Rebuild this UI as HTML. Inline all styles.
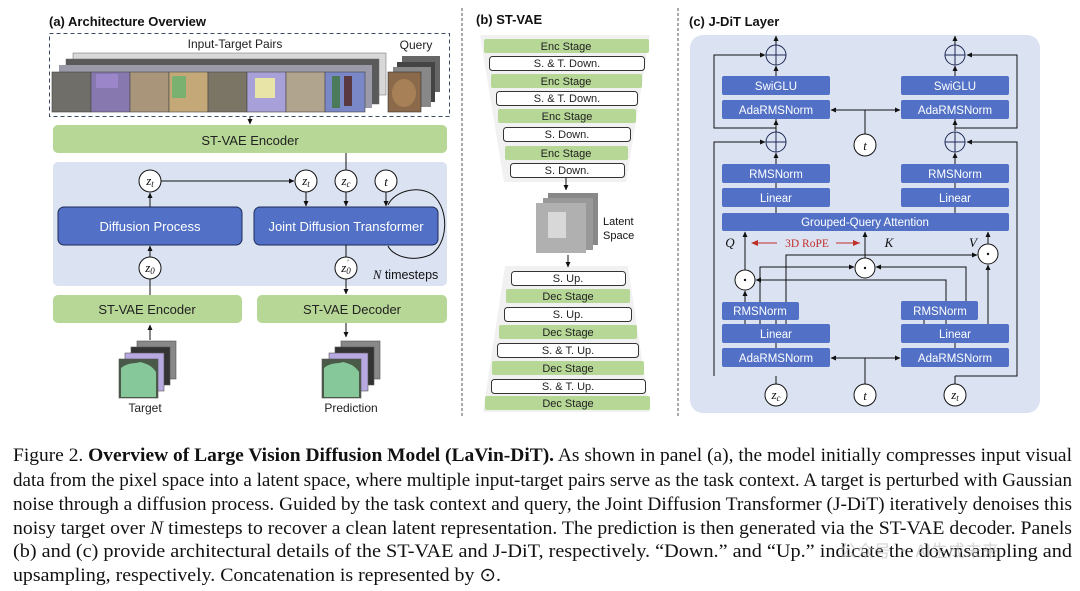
<!DOCTYPE html>
<html><head><meta charset="utf-8"><style>
html,body{margin:0;padding:0;background:#fff;}
svg{display:block;}
.s{font-family:"Liberation Sans",sans-serif;}
.w{fill:#fff;font-family:"Liberation Sans",sans-serif;font-size:11.5px;text-anchor:middle;}
.k{fill:#222;font-family:"Liberation Sans",sans-serif;text-anchor:middle;}
.m{font-family:"Liberation Serif",serif;font-style:italic;text-anchor:middle;font-size:13px;fill:#111;}
.cap{font-family:"Liberation Serif",serif;font-size:19px;fill:#111;}
</style></head><body>
<svg width="1080" height="591" viewBox="0 0 1080 591" xmlns="http://www.w3.org/2000/svg">
<defs>
<marker id="a" markerWidth="6" markerHeight="6" refX="5" refY="3" orient="auto" markerUnits="userSpaceOnUse"><path d="M0,0.5 L5.5,3 L0,5.5 z" fill="#111"/></marker>
<marker id="ar" markerWidth="8" markerHeight="6" refX="7" refY="3" orient="auto" markerUnits="userSpaceOnUse"><path d="M0,0 L7,3 L0,6 z" fill="#c0302a"/></marker>
<marker id="as" markerWidth="8" markerHeight="6" refX="1" refY="3" orient="auto" markerUnits="userSpaceOnUse"><path d="M7,0 L0,3 L7,6 z" fill="#c0302a"/></marker>
</defs>

<line x1="462" y1="8" x2="462" y2="416" stroke="#555" stroke-width="1" stroke-dasharray="3,2"/>
<line x1="678" y1="8" x2="678" y2="416" stroke="#555" stroke-width="1" stroke-dasharray="3,2"/>

<!-- ===== Panel A ===== -->
<text x="49" y="26" class="s" font-size="13" font-weight="bold" fill="#111">(a) Architecture Overview</text>
<rect x="49.5" y="33.5" width="400" height="83" fill="none" stroke="#3a4a6a" stroke-dasharray="4,3"/>
<text x="235" y="48" class="k" font-size="12">Input-Target Pairs</text>
<text x="416" y="49" class="k" font-size="12">Query</text>
<rect x="73" y="53" width="313" height="42" fill="#d8d8d8" stroke="#666" stroke-width=".5"/>
<rect x="66" y="59" width="313" height="45" fill="#5a5a5a" stroke="#666" stroke-width=".5"/>
<rect x="59" y="65" width="313" height="43" fill="#9a9aa8"/>
<g stroke="#444" stroke-width=".6">
<rect x="52" y="72" width="39" height="40" fill="#6f6e68"/>
<rect x="91" y="72" width="39" height="40" fill="#8878b0"/>
<rect x="130" y="72" width="39" height="40" fill="#a8957a"/>
<rect x="169" y="72" width="39" height="40" fill="#c4a878"/>
<rect x="208" y="72" width="39" height="40" fill="#7b7566"/>
<rect x="247" y="72" width="39" height="40" fill="#a8a0d8"/>
<rect x="286" y="72" width="39" height="40" fill="#b0a48e"/>
<rect x="325" y="72" width="40" height="40" fill="#7a88c8"/>
</g>
<rect x="96" y="74" width="22" height="14" fill="#9a86c8"/>
<rect x="172" y="76" width="14" height="22" fill="#7ab070"/>
<rect x="255" y="78" width="20" height="20" fill="#e8e4a8"/>
<rect x="332" y="76" width="8" height="32" fill="#4a7a58"/>
<rect x="344" y="76" width="8" height="30" fill="#5a3a40"/>
<rect x="402" y="56" width="38" height="36" fill="#666"/>
<rect x="397" y="62" width="38" height="40" fill="#444"/>
<rect x="393" y="67" width="38" height="40" fill="#888"/>
<rect x="388" y="72" width="33" height="40" fill="#8a6a4a" stroke="#333" stroke-width=".6"/>
<ellipse cx="404" cy="93" rx="12" ry="14" fill="#a88058"/>
<line x1="250" y1="117" x2="250" y2="124" stroke="#111" marker-end="url(#a)"/>
<rect x="53" y="125" width="394" height="28" rx="5" fill="#b6d795"/>
<text x="250" y="145" class="k" font-size="13">ST-VAE Encoder</text>
<rect x="53" y="162" width="394" height="124" rx="5" fill="#dbe2f2"/>
<line x1="346" y1="153" x2="346" y2="170" stroke="#111"/>
<rect x="58" y="207" width="184" height="38" rx="6" fill="#5271c6" stroke="#1e2a55" stroke-width="1"/>
<text x="150" y="231" class="w" style="font-size:13px">Diffusion Process</text>
<rect x="254" y="207" width="184" height="38" rx="6" fill="#5271c6" stroke="#1e2a55" stroke-width="1"/>
<text x="346" y="231" class="w" style="font-size:13px">Joint Diffusion Transformer</text>
<line x1="150" y1="207" x2="150" y2="193" stroke="#111" marker-end="url(#a)"/>
<line x1="161" y1="181" x2="294" y2="181" stroke="#111" marker-end="url(#a)"/>
<line x1="306" y1="192" x2="306" y2="206" stroke="#111" marker-end="url(#a)"/>
<line x1="346" y1="192" x2="346" y2="206" stroke="#111" marker-end="url(#a)"/>
<line x1="386" y1="192" x2="386" y2="206" stroke="#111" marker-end="url(#a)"/>
<path d="M388,205 C395,190 420,185 433,195 C450,210 448,245 430,255 C410,263 392,255 388,246" fill="none" stroke="#111"/>
<line x1="150" y1="257" x2="150" y2="246" stroke="#111" marker-end="url(#a)"/>
<line x1="150" y1="295" x2="150" y2="279" stroke="#111"/>
<line x1="346" y1="245" x2="346" y2="257" stroke="#111"/>
<line x1="346" y1="279" x2="346" y2="294" stroke="#111" marker-end="url(#a)"/>
<g fill="#fff" stroke="#111">
<circle cx="150" cy="181" r="11"/><circle cx="306" cy="181" r="11"/><circle cx="346" cy="181" r="11"/><circle cx="386" cy="181" r="11"/>
<circle cx="150" cy="268" r="11"/><circle cx="346" cy="268" r="11"/>
</g>
<text x="150" y="185" class="m">z<tspan font-size="9" dy="2">t</tspan></text>
<text x="306" y="185" class="m">z<tspan font-size="9" dy="2">t</tspan></text>
<text x="346" y="185" class="m">z<tspan font-size="9" dy="2">c</tspan></text>
<text x="386" y="186" class="m">t</text>
<text x="150" y="272" class="m">z<tspan font-size="9" dy="2">0</tspan></text>
<text x="346" y="272" class="m">z<tspan font-size="9" dy="2">0</tspan><tspan font-size="8" dx="-4" dy="-9">′</tspan></text>
<text x="373" y="279" class="s" font-size="12.5" fill="#111"><tspan font-family="Liberation Serif" font-style="italic">N</tspan> timesteps</text>
<rect x="53" y="295" width="189" height="28" rx="5" fill="#b6d795"/>
<text x="147" y="314" class="k" font-size="13">ST-VAE Encoder</text>
<rect x="257" y="295" width="190" height="28" rx="5" fill="#b6d795"/>
<text x="352" y="314" class="k" font-size="13">ST-VAE Decoder</text>
<line x1="150" y1="340" x2="150" y2="325" stroke="#111" marker-end="url(#a)"/>
<line x1="346" y1="323" x2="346" y2="337" stroke="#111" marker-end="url(#a)"/>
<g stroke="#555" stroke-width=".6">
<rect x="137" y="341" width="39" height="38" fill="#888"/>
<rect x="131" y="347" width="39" height="38" fill="#333"/>
<rect x="125" y="353" width="39" height="38" fill="#b8a8e0"/>
<rect x="119" y="359" width="39" height="39" fill="#4a5a48"/>
<rect x="341" y="341" width="39" height="38" fill="#888"/>
<rect x="335" y="347" width="39" height="38" fill="#333"/>
<rect x="329" y="353" width="39" height="38" fill="#b8a8e0"/>
<rect x="322" y="359" width="39" height="39" fill="#4a5a48"/>
</g>
<path d="M121,397 L121,368 C128,362 135,364 140,362 C148,364 152,366 156,372 L156,397 z" fill="#86c89a"/>
<path d="M324,397 L324,368 C331,362 338,364 343,362 C351,364 355,366 359,372 L359,397 z" fill="#86c89a"/>
<text x="145" y="412" class="k" font-size="12">Target</text>
<text x="351" y="412" class="k" font-size="12">Prediction</text>

<!-- ===== Panel B ===== -->
<text x="476" y="24" class="s" font-size="13" font-weight="bold" fill="#111">(b) ST-VAE</text>
<path d="M480,35 L650,35 L626,182 L504,182 z" fill="#f1f1f1"/>
<path d="M505,266 L628,266 L650,412 L483,412 z" fill="#f1f1f1"/>
<rect x="484" y="39" width="165" height="14" rx="2" fill="#b6d795"/><text x="566" y="50" class="k" font-size="11">Enc Stage</text>
<rect x="489.5" y="56.5" width="155" height="14" rx="3" fill="#fff" stroke="#333"/><text x="567" y="67" class="k" font-size="11">S. &amp; T. Down.</text>
<rect x="491" y="74" width="151" height="14" rx="2" fill="#b6d795"/><text x="566" y="85" class="k" font-size="11">Enc Stage</text>
<rect x="496.5" y="91.5" width="141" height="14" rx="3" fill="#fff" stroke="#333"/><text x="567" y="102" class="k" font-size="11">S. &amp; T. Down.</text>
<rect x="498" y="109" width="138" height="14" rx="2" fill="#b6d795"/><text x="567" y="120" class="k" font-size="11">Enc Stage</text>
<rect x="503.5" y="127.5" width="127" height="14" rx="3" fill="#fff" stroke="#333"/><text x="567" y="138" class="k" font-size="11">S. Down.</text>
<rect x="505" y="146" width="123" height="14" rx="2" fill="#b6d795"/><text x="566" y="157" class="k" font-size="11">Enc Stage</text>
<rect x="510.5" y="163.5" width="114" height="14" rx="3" fill="#fff" stroke="#333"/><text x="567" y="174" class="k" font-size="11">S. Down.</text>
<rect x="511.5" y="271.5" width="114" height="14" rx="3" fill="#fff" stroke="#333"/><text x="568" y="282" class="k" font-size="11">S. Up.</text>
<rect x="506" y="289" width="124" height="14" rx="2" fill="#b6d795"/><text x="568" y="300" class="k" font-size="11">Dec Stage</text>
<rect x="504.5" y="307.5" width="127" height="14" rx="3" fill="#fff" stroke="#333"/><text x="568" y="318" class="k" font-size="11">S. Up.</text>
<rect x="499" y="325" width="138" height="14" rx="2" fill="#b6d795"/><text x="568" y="336" class="k" font-size="11">Dec Stage</text>
<rect x="497.5" y="343.5" width="141" height="14" rx="3" fill="#fff" stroke="#333"/><text x="568" y="354" class="k" font-size="11">S. &amp; T. Up.</text>
<rect x="492" y="361" width="152" height="14" rx="2" fill="#b6d795"/><text x="568" y="372" class="k" font-size="11">Dec Stage</text>
<rect x="491.5" y="379.5" width="154" height="14" rx="3" fill="#fff" stroke="#333"/><text x="568" y="390" class="k" font-size="11">S. &amp; T. Up.</text>
<rect x="485" y="396" width="165" height="14" rx="2" fill="#b6d795"/><text x="568" y="407" class="k" font-size="11">Dec Stage</text>
<line x1="566" y1="178" x2="566" y2="190" stroke="#111" marker-end="url(#a)"/>
<rect x="548" y="193" width="50" height="52" fill="#888"/>
<rect x="543" y="198" width="50" height="52" fill="#999"/>
<rect x="536" y="203" width="50" height="50" fill="#b0b0b0"/>
<rect x="548" y="212" width="18" height="26" fill="#d8d8d8"/>
<text x="603" y="225" class="s" font-size="11" fill="#111">Latent</text>
<text x="603" y="239" class="s" font-size="11" fill="#111">Space</text>
<line x1="568" y1="255" x2="568" y2="267" stroke="#111" marker-end="url(#a)"/>

<!-- ===== Panel C ===== -->
<text x="689" y="26" class="s" font-size="13" font-weight="bold" fill="#111">(c) J-DiT Layer</text>
<rect x="690" y="35" width="350" height="378" rx="13" fill="#dbe2f2"/>
<g fill="none" stroke="#111" stroke-width="1">
<polyline points="776,100 776,142 776,128 714,128 714,55 765,55" marker-end="url(#a)"/>
<polyline points="955,100 955,128 1017,128 1017,55 967,55" marker-end="url(#a)"/>
<polyline points="714,376 714,142 765,142" marker-end="url(#a)"/>
<polyline points="955,376 1017,376 1017,142 967,142" marker-end="url(#a)"/>
<line x1="776" y1="64" x2="776" y2="36" marker-end="url(#a)"/>
<line x1="955" y1="64" x2="955" y2="36" marker-end="url(#a)"/>
<line x1="776" y1="76" x2="776" y2="66" marker-end="url(#a)"/>
<line x1="955" y1="76" x2="955" y2="66" marker-end="url(#a)"/>
<line x1="776" y1="164" x2="776" y2="153" marker-end="url(#a)"/>
<line x1="955" y1="164" x2="955" y2="153" marker-end="url(#a)"/>
<line x1="776" y1="131" x2="776" y2="120" marker-end="url(#a)"/>
<line x1="955" y1="131" x2="955" y2="120" marker-end="url(#a)"/>
<line x1="776" y1="183" x2="776" y2="213"/>
<line x1="955" y1="183" x2="955" y2="213"/>
<line x1="865" y1="134" x2="865" y2="110"/>
<line x1="865" y1="110" x2="831" y2="110" marker-end="url(#a)"/>
<line x1="865" y1="110" x2="900" y2="110" marker-end="url(#a)"/>
<line x1="865" y1="384" x2="865" y2="358"/>
<line x1="865" y1="358" x2="831" y2="358" marker-end="url(#a)"/>
<line x1="865" y1="358" x2="900" y2="358" marker-end="url(#a)"/>
<line x1="776" y1="384" x2="776" y2="376"/>
<line x1="955" y1="384" x2="955" y2="376"/>
<line x1="776" y1="367" x2="776" y2="320"/>
<line x1="955" y1="367" x2="955" y2="324"/>
<line x1="745" y1="302" x2="745" y2="291" marker-end="url(#a)"/>
<line x1="745" y1="270" x2="745" y2="232" marker-end="url(#a)"/>
<line x1="865" y1="258" x2="865" y2="232" marker-end="url(#a)"/>
<line x1="988" y1="244" x2="988" y2="232" marker-end="url(#a)"/>
<polyline points="760,302 760,267 854,267" marker-end="url(#a)"/>
<polyline points="786,302 786,255 977,255" marker-end="url(#a)"/>
<polyline points="946,301 946,280 756,280" marker-end="url(#a)"/>
<polyline points="966,301 966,267 876,267" marker-end="url(#a)"/>
<polyline points="988,324 988,265" marker-end="url(#a)"/>
<line x1="745" y1="320" x2="745" y2="324"/><line x1="760" y1="320" x2="760" y2="324"/><line x1="786" y1="320" x2="786" y2="324"/>
<line x1="924" y1="320" x2="924" y2="324"/><line x1="946" y1="320" x2="946" y2="324"/>
</g>
<g fill="#5271c6">
<rect x="722" y="76" width="108" height="19" rx="2"/><rect x="901" y="76" width="108" height="19" rx="2"/>
<rect x="722" y="100" width="108" height="19" rx="2"/><rect x="901" y="100" width="108" height="19" rx="2"/>
<rect x="722" y="164" width="108" height="19" rx="2"/><rect x="901" y="164" width="108" height="19" rx="2"/>
<rect x="722" y="188" width="108" height="19" rx="2"/><rect x="901" y="188" width="108" height="19" rx="2"/>
<rect x="722" y="213" width="287" height="18" rx="2"/>
<rect x="722" y="302" width="77" height="18" rx="2"/><rect x="901" y="301" width="77" height="19" rx="2"/>
<rect x="722" y="324" width="108" height="19" rx="2"/><rect x="901" y="324" width="108" height="19" rx="2"/>
<rect x="722" y="348" width="108" height="19" rx="2"/><rect x="901" y="348" width="108" height="19" rx="2"/>
</g>
<text x="776" y="90" class="w">SwiGLU</text><text x="955" y="90" class="w">SwiGLU</text>
<text x="776" y="114" class="w">AdaRMSNorm</text><text x="955" y="114" class="w">AdaRMSNorm</text>
<text x="776" y="178" class="w">RMSNorm</text><text x="955" y="178" class="w">RMSNorm</text>
<text x="776" y="202" class="w">Linear</text><text x="955" y="202" class="w">Linear</text>
<text x="865" y="226" class="w">Grouped-Query Attention</text>
<text x="760" y="315" class="w">RMSNorm</text><text x="940" y="315" class="w">RMSNorm</text>
<text x="776" y="338" class="w">Linear</text><text x="955" y="338" class="w">Linear</text>
<text x="776" y="362" class="w">AdaRMSNorm</text><text x="955" y="362" class="w">AdaRMSNorm</text>
<g fill="none" stroke="#1e2a55" stroke-width="1">
<circle cx="776" cy="55" r="10"/><circle cx="955" cy="55" r="10"/><circle cx="776" cy="142" r="10"/><circle cx="955" cy="142" r="10"/>
<path d="M766,55h20M776,45v20M945,55h20M955,45v20M766,142h20M776,132v20M945,142h20M955,132v20"/>
</g>
<g fill="#fff" stroke="#111">
<circle cx="865" cy="145" r="11"/>
<circle cx="745" cy="280" r="10"/><circle cx="865" cy="268" r="10"/><circle cx="988" cy="254" r="10"/>
<circle cx="776" cy="395" r="11"/><circle cx="865" cy="395" r="11"/><circle cx="955" cy="395" r="11"/>
</g>
<g fill="#111"><circle cx="745" cy="280" r="1.2"/><circle cx="865" cy="268" r="1.2"/><circle cx="988" cy="254" r="1.2"/></g>
<text x="865" y="150" class="m">t</text>
<text x="865" y="400" class="m">t</text>
<text x="776" y="399" class="m">z<tspan font-size="9" dy="2">c</tspan></text>
<text x="955" y="399" class="m">z<tspan font-size="9" dy="2">t</tspan></text>
<text x="730" y="247" class="m">Q</text><text x="889" y="247" class="m">K</text><text x="973" y="247" class="m">V</text>
<line x1="752" y1="243" x2="777" y2="243" stroke="#c0302a" marker-start="url(#as)"/>
<line x1="836" y1="243" x2="860" y2="243" stroke="#c0302a" marker-end="url(#ar)"/>
<text x="807" y="247" font-family="Liberation Serif" font-size="11.5" fill="#c0302a" text-anchor="middle">3D RoPE</text>

<!-- caption -->
<text x="13" y="461" class="cap" textLength="1059" lengthAdjust="spacingAndGlyphs">Figure 2. <tspan font-weight="bold">Overview of Large Vision Diffusion Model (LaVin-DiT).</tspan> As shown in panel (a), the model initially compresses input visual</text>
<text x="13" y="486" class="cap" textLength="1059" lengthAdjust="spacingAndGlyphs">data from the pixel space into a latent space, where multiple input-target pairs serve as the task context. A target is perturbed with Gaussian</text>
<text x="13" y="510" class="cap" textLength="1059" lengthAdjust="spacingAndGlyphs">noise through a diffusion process. Guided by the task context and query, the Joint Diffusion Transformer (J-DiT) iteratively denoises this</text>
<text x="13" y="534" class="cap" textLength="1059" lengthAdjust="spacingAndGlyphs">noisy target over <tspan font-style="italic">N</tspan> timesteps to recover a clean latent representation. The prediction is then generated via the ST-VAE decoder. Panels</text>
<text x="13" y="557" class="cap" textLength="1059" lengthAdjust="spacingAndGlyphs">(b) and (c) provide architectural details of the ST-VAE and J-DiT, respectively. “Down.” and “Up.” indicate the downsampling and</text>
<text x="13" y="581" class="cap" textLength="488" lengthAdjust="spacingAndGlyphs">upsampling, respectively. Concatenation is represented by ⊙.</text>
<text x="840" y="557" font-family="Noto Sans CJK SC, sans-serif" font-size="17" fill="#bbb" opacity="0.6">公众号 · AI生成未来</text>
</svg>
</body></html>
